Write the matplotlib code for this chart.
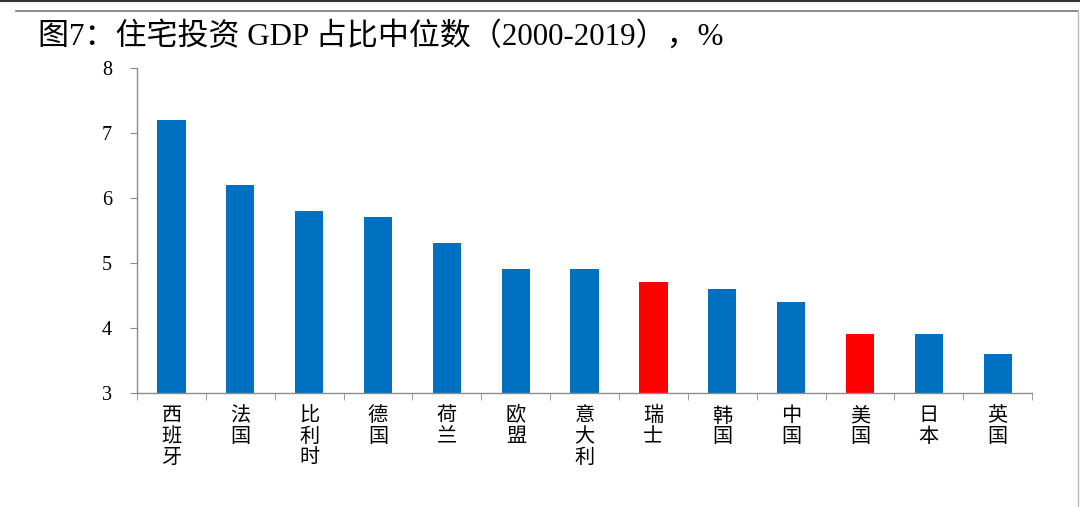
import matplotlib
matplotlib.use('Agg')
from matplotlib import pyplot as plt
from matplotlib.lines import Line2D
import numpy as np

countries = ['西班牙', '法国', '比利时', '德国', '荷兰', '欧盟', '意大利',
             '瑞士', '韩国', '中国', '美国', '日本', '英国']
values = [7.2, 6.2, 5.8, 5.7, 5.3, 4.9, 4.9, 4.7, 4.6, 4.4, 3.9, 3.9, 3.6]
highlight = ['瑞士', '美国']

blue = '#0070C0'
red = '#FF0000'
grey = '#8c8c8c'

plt.rcParams['font.family'] = ['Liberation Serif', 'Noto Sans CJK SC']

fig = plt.figure(figsize=(10.8, 5.07), dpi=100)
ax = fig.add_axes([0.1269, 0.2249, 0.8287, 0.641])

x = np.arange(len(countries))
colors = [red if c in highlight else blue for c in countries]
ax.bar(x, [v - 3 for v in values], bottom=3, width=0.41, color=colors)

ax.set_xlim(-0.5, len(countries) - 0.5)
ax.set_ylim(3, 8)
ax.set_yticks([3, 4, 5, 6, 7, 8])
ax.set_yticklabels(['3', '4', '5', '6', '7', '8'], fontsize=14.5)

# stacked vertical labels, category ticks between bars
ax.set_xticks(x)
ax.set_xticklabels(['\n'.join(c) for c in countries], family='Noto Sans CJK SC',
                   fontsize=14.5, va='top', linespacing=1.0)
ax.tick_params(axis='x', which='major', length=0, pad=9)
ax.set_xticks(np.arange(len(countries) + 1) - 0.5, minor=True)
ax.tick_params(axis='x', which='minor', length=5, direction='out', color=grey)
ax.tick_params(axis='y', length=5, direction='out', color=grey, pad=13)

for s in ['top', 'right']:
    ax.spines[s].set_visible(False)
for s in ['left', 'bottom']:
    ax.spines[s].set_color(grey)
    ax.spines[s].set_linewidth(1.0)

fig.text(0.035, 0.912, '图7：住宅投资 GDP 占比中位数（2000-2019），%', fontsize=22.3,
         ha='left', va='baseline')

# page frame lines
fig.add_artist(Line2D([0.015, 0.998], [0.978, 0.978], color='#777777', lw=1.2))
fig.add_artist(Line2D([0.998, 0.998], [0.0, 0.978], color='#bbbbbb', lw=1.0))
fig.add_artist(Line2D([0.0, 1.0], [0.999, 0.999], color='#333333', lw=1.5))

fig.savefig('out.png', dpi=100)
